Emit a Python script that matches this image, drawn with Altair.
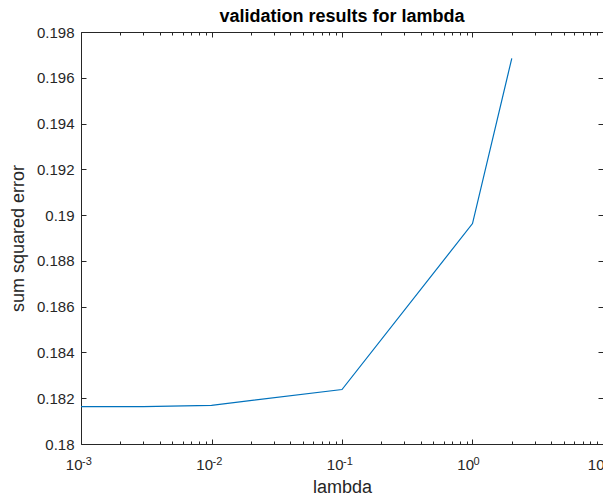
import altair as alt
import pandas as pd

# data
lambdas = [0.001, 0.003, 0.01, 0.1, 1, 2]
errors = [0.18163, 0.18163, 0.18169, 0.18238, 0.18963, 0.19685]

x_major = [0.001, 0.01, 0.1, 1, 10]
x_major_exp = ["-3", "-2", "-1", "0", "1"]
x_ticks = [k * 10.0 ** e for e in range(-3, 1) for k in range(1, 10)] + [10]
y_ticks = [0.18, 0.182, 0.184, 0.186, 0.188, 0.19, 0.192, 0.194, 0.196, 0.198]

df = pd.DataFrame({"lambda": lambdas, "err": errors})
df_exp = pd.DataFrame({"lambda": x_major, "exp": x_major_exp})

FONT = "Liberation Sans"
AX = "#262626"
W, H = 522, 412

major_test = "abs(log(datum.value)/LN10 - round(log(datum.value)/LN10)) < 1e-6"
label_expr = f"({major_test}) ? '10' : ''"
tick_size_x = {"condition": {"test": major_test, "value": -5}, "value": -3}

xscale = alt.Scale(type="log", domain=[0.001, 10], nice=False)
yscale = alt.Scale(domain=[0.18, 0.198], nice=False, zero=False)

common_axis = dict(domainColor=AX, tickColor=AX, labelColor=AX, titleColor=AX,
                   labelFont=FONT, titleFont=FONT, grid=False, domainWidth=1, tickWidth=1)

main = alt.Chart(df).mark_line(color="#0072BD", strokeWidth=1.2).encode(
    x=alt.X("lambda:Q", scale=xscale,
            axis=alt.Axis(orient="bottom", values=x_ticks, labelExpr=label_expr,
                          tickSize=tick_size_x, labelFontSize=15, labelPadding=18,
                          labelAlign="right", labelOffset=1,
                          labelFlush=False, labelOverlap=False,
                          title="lambda", titleFontSize=18, titleFontWeight="normal",
                          titleX=W / 2, titleY=48, titleBaseline="alphabetic", titleAlign="center",
                          **common_axis)),
    y=alt.Y("err:Q", scale=yscale,
            axis=alt.Axis(orient="left", values=y_ticks, format=".3~f",
                          tickSize=alt.ExprRef("-5"), labelFontSize=15, labelPadding=12,
                          labelFlush=False, labelOverlap=False,
                          title="sum squared error", titleFontSize=18, titleFontWeight="normal",
                          titleX=-63, titleY=H / 2, titleAngle=-90, titleBaseline="middle",
                          titleAlign="center",
                          **common_axis)),
)

exps = alt.Chart(df_exp).mark_text(
    font=FONT, fontSize=11, color=AX, align="left", baseline="top", dx=1
).encode(
    x=alt.X("lambda:Q", scale=xscale, axis=None),
    y=alt.value(H + 12),
    text="exp:N",
)

mirror = alt.Chart(df).mark_line(opacity=0).encode(
    x=alt.X("lambda:Q", scale=xscale,
            axis=alt.Axis(orient="top", values=x_ticks, labels=False, title=None,
                          tickSize=tick_size_x, **common_axis)),
    y=alt.Y("err:Q", scale=yscale,
            axis=alt.Axis(orient="right", values=y_ticks, labels=False, title=None,
                          tickSize=alt.ExprRef("-5"), **common_axis)),
)

chart = alt.layer(main, mirror, exps).resolve_axis(x="independent", y="independent").properties(
    width=W, height=H,
    title=alt.TitleParams("validation results for lambda", font=FONT, fontSize=18,
                          fontWeight="bold", color="#000000", anchor="middle", offset=1, dy=2),
    autosize=alt.AutoSizeParams(type="none"),
    padding={"left": 73, "top": 24, "right": 0, "bottom": 49},
).configure_view(stroke=None).configure(background="white")

chart.save("out.html", embed_options={"renderer": "svg", "actions": False})
